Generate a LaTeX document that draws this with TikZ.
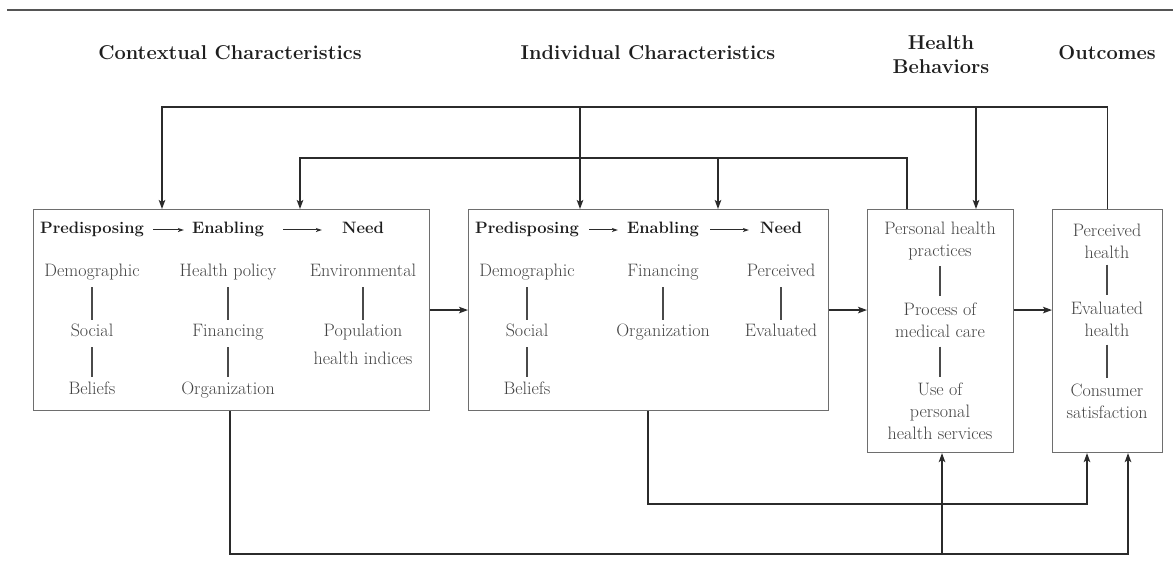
\documentclass[tikz,border=0pt]{standalone}
\usepackage{fontspec}
\usetikzlibrary{arrows.meta,calc}
\definecolor{linec}{HTML}{2B2B2B}
\definecolor{boxc}{HTML}{6E6E6E}
\definecolor{sepc}{HTML}{4A4A4A}
\definecolor{txtc}{HTML}{444444}
\definecolor{headc}{HTML}{1E1E1E}
\definecolor{rulec}{HTML}{555555}
\begin{document}
\begin{tikzpicture}[x=1pt,y=-1pt,
 box/.style={draw=boxc,line width=1.1pt,inner sep=0,anchor=north west},
 link/.style={draw=linec,line width=1.4pt},
 arr/.style={link,-{Stealth[length=9pt,width=6.5pt,inset=2pt]}},
 smallarr/.style={draw=linec,line width=1pt,-{Stealth[length=6pt,width=4pt,inset=1.5pt]}},
 sepline/.style={draw=sepc,line width=1.2pt},
 head/.style={font=\fontsize{20}{24}\selectfont\bfseries,text=headc,align=center,inner sep=0},
 lab/.style={font=\fontsize{16.5}{20}\selectfont\bfseries,text=headc,text height=12pt,text depth=4pt,inner sep=0},
 itm/.style={font=\fontsize{18}{22}\selectfont,text=txtc,text height=12pt,text depth=4pt,inner sep=0},
 mitm/.style={font=\fontsize{18}{22}\selectfont,text=txtc,align=center,inner sep=0},
]
\useasboundingbox (0,0) rectangle (1173,569);
\fill[white] (0,0) rectangle (1173,569);
\draw[rulec,line width=1.5pt] (7,10) -- (1173,10);

% headers
\node[head] (h1) at (230,53) {Contextual Characteristics};
\node[head] (h2) at (648,53) {Individual Characteristics};
\node[head] (h3) at (941,55) {Health\\Behaviors};
\node[head] (h4) at (1107,53) {Outcomes};

% boxes
\node[box,minimum width=396pt,minimum height=201pt] (b1) at (33,209) {};
\node[box,minimum width=360pt,minimum height=201pt] (b2) at (468,209) {};
\node[box,minimum width=146pt,minimum height=243pt] (b3) at (867,209) {};
\node[box,minimum width=110pt,minimum height=243pt] (b4) at (1052,209) {};

% box 1 content
\node[lab] (p1) at (92,230) {Predisposing};
\node[lab] (e1) at (228,230) {Enabling};
\node[lab] (n1) at (363,230) {Need};
\node[itm] (dem1) at (92,273) {Demographic};
\node[itm] (soc1) at (92,333) {Social};
\node[itm] (bel1) at (92,390) {Beliefs};
\node[itm] (hp1) at (228,273) {Health policy};
\node[itm] (fin1) at (228,333) {Financing};
\node[itm] (org1) at (228,390) {Organization};
\node[itm] (env1) at (363,273) {Environmental};
\node[itm] (pop1) at (363,333) {Population};
\node[itm] (hi1) at (363,360) {health indices};
\draw[smallarr,shorten <=9pt,shorten >=8pt] (p1.east) -- (e1.west);
\draw[smallarr,shorten <=19pt,shorten >=20pt] (e1.east) -- (n1.west);
\draw[sepline,shorten <=6pt,shorten >=5pt] (dem1) -- (soc1);
\draw[sepline,shorten <=6pt,shorten >=5pt] (soc1) -- (bel1);
\draw[sepline,shorten <=6pt,shorten >=5pt] (hp1) -- (fin1);
\draw[sepline,shorten <=6pt,shorten >=5pt] (fin1) -- (org1);
\draw[sepline,shorten <=6pt,shorten >=5pt] (env1) -- (pop1);

% box 2 content
\node[lab] (p2) at (527,230) {Predisposing};
\node[lab] (e2) at (663,230) {Enabling};
\node[lab] (n2) at (781,230) {Need};
\node[itm] (dem2) at (527,273) {Demographic};
\node[itm] (soc2) at (527,333) {Social};
\node[itm] (bel2) at (527,390) {Beliefs};
\node[itm] (fin2) at (663,273) {Financing};
\node[itm] (org2) at (663,333) {Organization};
\node[itm] (per2) at (781,273) {Perceived};
\node[itm] (eva2) at (781,333) {Evaluated};
\draw[smallarr,shorten <=10pt,shorten >=9pt] (p2.east) -- (e2.west);
\draw[smallarr,shorten <=11pt,shorten >=11pt] (e2.east) -- (n2.west);
\draw[sepline,shorten <=6pt,shorten >=5pt] (dem2) -- (soc2);
\draw[sepline,shorten <=6pt,shorten >=5pt] (soc2) -- (bel2);
\draw[sepline,shorten <=6pt,shorten >=5pt] (fin2) -- (org2);
\draw[sepline,shorten <=6pt,shorten >=5pt] (per2) -- (eva2);

% box 3 content
\node[mitm] (ph3) at (940,241) {Personal health\\practices};
\node[mitm] (pm3) at (940,320) {Process of\\medical care};
\node[mitm] (us3) at (940,411) {Use of\\personal\\health services};
\draw[sepline,shorten <=6pt,shorten >=6pt] (ph3) -- (pm3);
\draw[sepline,shorten <=9pt,shorten >=5pt] (pm3) -- (us3);

% box 4 content
\node[mitm] (ph4) at (1107,241) {Perceived\\health};
\node[mitm] (eh4) at (1107,319) {Evaluated\\health};
\node[mitm] (cs4) at (1107,401) {Consumer\\satisfaction};
\draw[sepline,shorten <=6pt,shorten >=6pt] (ph4) -- (eh4);
\draw[sepline,shorten <=8pt,shorten >=5pt] (eh4) -- (cs4);

% connector points
\coordinate (top1) at (0,107);
\coordinate (top2) at (0,158);
\coordinate (bot1) at (0,504);
\coordinate (bot2) at (0,554);
\coordinate (i1) at ($(b1.north west)+(129,0)$);
\coordinate (i2) at ($(b1.north west)+(267,0)$);
\coordinate (i3) at ($(b2.north west)+(112,0)$);
\coordinate (i4) at ($(b2.north west)+(250,0)$);
\coordinate (i5) at ($(b3.north west)+(40,0)$);
\coordinate (i6) at ($(b3.north west)+(109,0)$);
\coordinate (o1) at ($(b1.south west)+(197,0)$);
\coordinate (o2) at ($(b2.south west)+(180,0)$);
\coordinate (u3) at ($(b3.south west)+(75,0)$);
\coordinate (u4a) at ($(b4.south west)+(35,0)$);
\coordinate (u4b) at ($(b4.south west)+(76,0)$);

% connectors
\draw[arr] (b4.north) |- (i1 |- top1) -- (i1);
\draw[arr] (i3 |- top1) -- (i3);
\draw[arr] (i6 |- top1) -- (i6);
\draw[arr] (i5) |- (i2 |- top2) -- (i2);
\draw[arr] (i4 |- top2) -- (i4);
\draw[arr] (o1) |- (u4b |- bot2) -- (u4b);
\draw[arr] (u3 |- bot2) -- (u3);
\draw[arr] (o2) |- (u4a |- bot1) -- (u4a);
\draw[arr] (b1.east) -- (b2.west);
\draw[arr] (b2.east) -- (b2.east -| b3.west);
\draw[arr] (b2.east -| b3.east) -- (b2.east -| b4.west);
\end{tikzpicture}
\end{document}
